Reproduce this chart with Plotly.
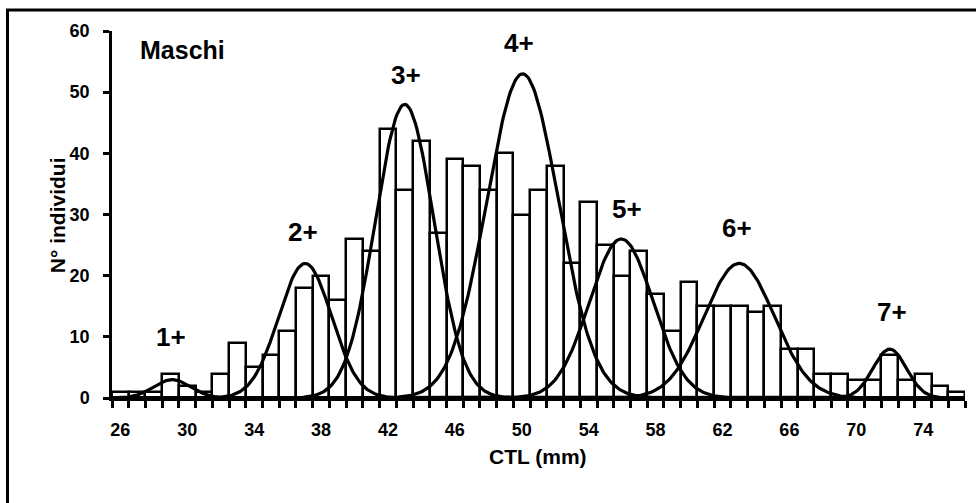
import numpy as np
import plotly.graph_objects as go

# ---- data ----
ctl_mm = list(range(26, 77))
n_individui = [1, 1, 1, 4, 2, 1, 4, 9, 5, 7,      # 26-35
               11, 18, 20, 16, 26, 24, 44, 34, 42, 27,  # 36-45
               39, 38, 34, 40, 30, 34, 38, 22, 32, 25,  # 46-55
               20, 24, 17, 11, 19, 15, 15, 15, 14, 15,  # 56-65
               8, 8, 4, 4, 3, 3, 7, 3, 4, 2,        # 66-75
               1]                                   # 76
x_tick_vals = [26, 30, 34, 38, 42, 46, 50, 54, 58, 62, 66, 70, 74]
y_tick_vals = [0, 10, 20, 30, 40, 50, 60]

# age classes (normal components)
age_labels = ["1+", "2+", "3+", "4+", "5+", "6+", "7+"]
comp_mean = [29.1, 37.05, 43.0, 50.05, 55.95, 63.0, 72.0]
comp_peak = [3.0, 22.0, 48.0, 53.0, 26.0, 22.0, 8.0]
comp_sigma = [1.1, 1.58, 1.75, 2.15, 1.9, 2.1, 1.0]
label_x = [29.03, 36.92, 43.08, 49.83, 56.29, 62.87, 72.14]
label_y = [10.0, 27.2, 52.8, 58.0, 30.9, 27.8, 14.1]

FONT = "Liberation Sans, Arial, sans-serif"

fig = go.Figure()
fig.add_trace(go.Bar(
    x=ctl_mm, y=n_individui, width=1.0,
    marker=dict(color="white", line=dict(color="black", width=2.5)),
    showlegend=False, hoverinfo="x+y"))

xs = np.linspace(25.5, 76.5, 600)
for m, p, s in zip(comp_mean, comp_peak, comp_sigma):
    ys = p * np.exp(-0.5 * ((xs - m) / s) ** 2)
    fig.add_trace(go.Scatter(x=xs, y=ys, mode="lines",
                             line=dict(color="black", width=3.2),
                             showlegend=False, hoverinfo="skip"))

annotations = []
for t, ax, ay in zip(age_labels, label_x, label_y):
    annotations.append(dict(x=ax, y=ay, xref="x", yref="y", text=t,
                            showarrow=False,
                            font=dict(family=FONT, size=26, color="black", weight=700)))
annotations.append(dict(x=29.69, y=56.9, xref="x", yref="y", text="Maschi",
                        showarrow=False,
                        font=dict(family=FONT, size=25, color="black", weight=700)))
# axis titles
annotations.append(dict(x=(538 - 112) / 853, y=(398.5 - 471) / 367.5, xref="paper", yref="paper",
                        text="CTL (mm)", showarrow=False,
                        font=dict(family=FONT, size=21, color="black", weight=700)))
annotations.append(dict(x=(44 - 112) / 853, y=(398.5 - 216) / 367.5, xref="paper", yref="paper",
                        text="N° individui", showarrow=False, textangle=-90,
                        font=dict(family=FONT, size=21, color="black", weight=700)))

fig.update_layout(
    width=976, height=503,
    margin=dict(l=112, r=11, t=31, b=104.5),
    paper_bgcolor="white", plot_bgcolor="white",
    bargap=0,
    annotations=annotations,
    shapes=[dict(type="rect", xref="paper", yref="paper",
                 x0=(7.5 - 112) / 853, x1=(990 - 112) / 853,
                 y0=(398.5 - 520) / 367.5, y1=(398.5 - 10) / 367.5,
                 line=dict(color="black", width=3), fillcolor="rgba(0,0,0,0)",
                 layer="above")],
    xaxis=dict(range=[25.5, 76.5], showgrid=False, zeroline=False,
               showline=True, linecolor="black", linewidth=2.5,
               tickmode="array", tickvals=x_tick_vals,
               ticktext=[str(v) for v in x_tick_vals],
               ticks="", ticklen=0,
               tickfont=dict(family=FONT, size=18, color="black", weight=700),
               ticklabelstandoff=14,
               minor=dict(ticks="outside", tick0=25.5, dtick=1, ticklen=7,
                          tickwidth=2.5, tickcolor="black", showgrid=False)),
    yaxis=dict(range=[0, 60], showgrid=False, zeroline=False,
               showline=True, linecolor="black", linewidth=2.5,
               tickmode="array", tickvals=y_tick_vals,
               ticks="outside", ticklen=6, tickwidth=2.5, tickcolor="black",
               tickfont=dict(family=FONT, size=18, color="black", weight=700),
               ticklabelstandoff=10),
)

fig.write_html("out.html", config={"displayModeBar": False},
               post_script="document.body.style.margin='0';document.body.style.overflow='hidden';")
